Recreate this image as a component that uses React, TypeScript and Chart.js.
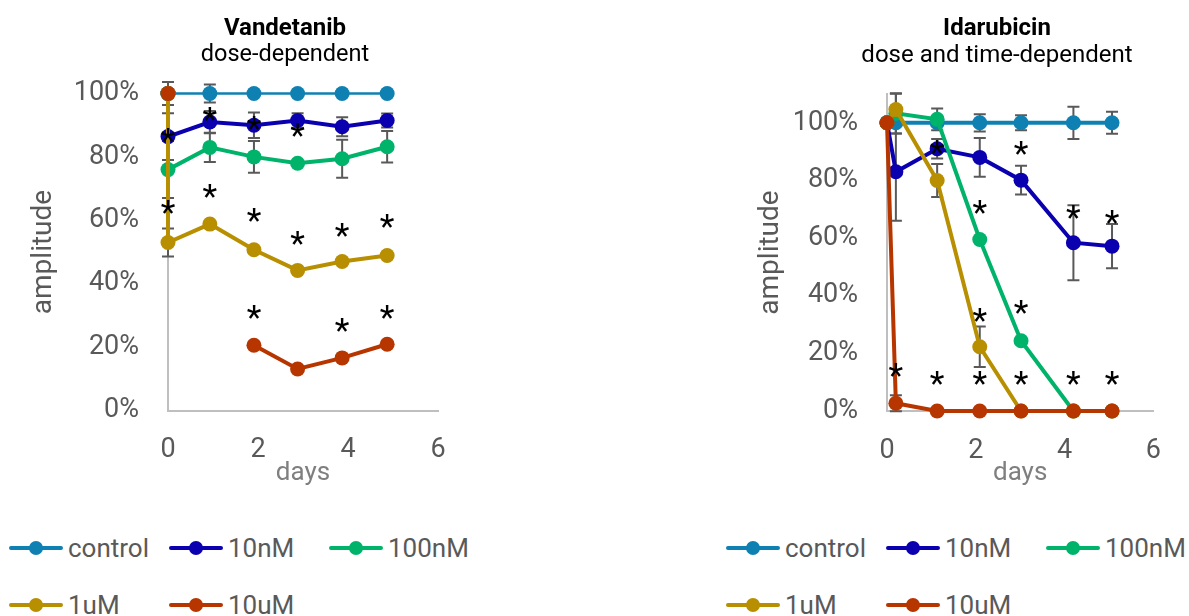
import React, { useEffect, useRef } from 'react';
import { Chart, registerables } from 'chart.js';

Chart.register(...registerables);

// ---------- shared ----------
const seriesNames = ['control', '10nM', '100nM', '1uM', '10uM'];
const seriesColors = ['#0F80B2', '#0B00AF', '#00B36A', '#B88F00', '#B73600'];
const dayTicks = [0, 2, 4, 6];
const amplitudeTicks = [0, 20, 40, 60, 80, 100];

// ---------- Vandetanib ----------
const vandetanibDays = [0, 0, 0.93, 1.91, 2.88, 3.87, 4.87];
const vandetanibControl = [100, 100, 100, 100, 100, 100, 100];
const vandetanib10nM = [100, 86.4, 91, 90, 91.5, 89.5, 91.5];
const vandetanib100nM = [100, 76, 83, 80, 78, 79.4, 83.2];
const vandetanib1uM = [100, 53, 58.8, 50.7, 44.2, 47, 48.9];
const vandetanib10uM = [100, null, null, 20.6, 13.1, 16.6, 20.9];

const vandetanibErrControl = [null, 3.6, 2.8, null, null, null, null];
const vandetanibErr10nM = [null, 7.4, 3.5, 4, 2.3, 3, 2.2];
const vandetanibErr100nM = [null, 9, 4.6, 5, null, 6, 5];
const vandetanibErr1uM = [null, 4.4, null, null, null, null, null];
const vandetanibErr10uM = [null, null, null, null, null, null, null];

const vandetanibStarDays = [0, 0, 0.93, 0.93, 1.91, 1.91, 1.91, 2.88, 2.88, 3.87, 3.87, 4.87, 4.87];
const vandetanibStarValues = [87.5, 64.7, 93.9, 69.8, 91.2, 62, 31.4, 89, 54.9, 57.5, 27.6, 60.2, 31.7];

// ---------- Idarubicin ----------
const idarubicinDays = [0, 0.2, 1.13, 2.09, 3.02, 4.2, 5.07];
const idarubicinControl = [100, 100, 100, 100, 100, 100, 100];
const idarubicin10nM = [100, 83, 91, 88, 80.1, 58.4, 57.2];
const idarubicin100nM = [100, 103.3, 101.2, 59.5, 24.4, 0, 0];
const idarubicin1uM = [100, 104.6, 80, 22.3, 0, 0, 0];
const idarubicin10uM = [100, 2.7, 0, 0, 0, 0, 0];

const idarubicinErrControl = [null, 3.7, null, 3, 2.6, 5.6, 3.8];
const idarubicinErr10nM = [null, 17, 3.4, 6.7, 5, 13, 7.7];
const idarubicinErr100nM = [null, 7, 3.8, null, null, null, null];
const idarubicinErr1uM = [null, 5.5, 5.7, 7, null, null, null];
const idarubicinErr10uM = [null, 2.8, null, null, null, null, null];

const idarubicinStarDays = [0.2, 1.13, 1.13, 2.09, 2.09, 2.09, 3.02, 3.02, 3.02, 4.2, 4.2, 5.07, 5.07];
const idarubicinStarValues = [14.8, 11.9, 92.3, 11.9, 34, 71.4, 11.9, 36.6, 91.7, 11.9, 69.7, 11.9, 68];

// ---------- plugins ----------
const errorBarPlugin = {
  id: 'errorBars',
  beforeDatasetsDraw(chart: any) {
    const { ctx, scales } = chart;
    const xs = scales.x;
    const ys = scales.y;
    ctx.save();
    ctx.strokeStyle = '#595959';
    ctx.lineWidth = 2;
    chart.data.datasets.forEach((ds: any) => {
      (ds.errors || []).forEach((e: number | null, j: number) => {
        const pt = ds.data[j];
        if (e == null || pt == null || pt.y == null) return;
        const px = xs.getPixelForValue(pt.x);
        const top = ys.getPixelForValue(pt.y + e);
        const bot = ys.getPixelForValue(pt.y - e);
        ctx.beginPath();
        ctx.moveTo(px, top);
        ctx.lineTo(px, bot);
        ctx.moveTo(px - 6, top);
        ctx.lineTo(px + 6, top);
        ctx.moveTo(px - 6, bot);
        ctx.lineTo(px + 6, bot);
        ctx.stroke();
      });
    });
    ctx.restore();
  },
};

function makeStarPlugin(days: number[], values: number[]) {
  return {
    id: 'stars',
    afterDatasetsDraw(chart: any) {
      const { ctx, scales } = chart;
      ctx.save();
      ctx.fillStyle = '#000000';
      ctx.font = '34px Roboto';
      ctx.textAlign = 'center';
      ctx.textBaseline = 'alphabetic';
      days.forEach((d, i) => {
        const px = scales.x.getPixelForValue(d);
        const py = scales.y.getPixelForValue(values[i]);
        ctx.fillText('*', px, py + 0.545 * 34);
      });
      ctx.restore();
    },
  };
}

type PanelProps = {
  left: number;
  width: number;
  height: number;
  days: number[];
  values: (number | null)[][];
  errors: (number | null)[][];
  starDays: number[];
  starValues: number[];
  yMax: number;
  lineWidths: number[];
  padTop: number;
  padRight: number;
  yAxisWidth: number;
  xAxisHeight: number;
  yTitlePad: number;
};

function Panel(p: PanelProps) {
  const ref = useRef<HTMLCanvasElement>(null);
  useEffect(() => {
    const datasets = seriesNames.map((name, i) => ({
      label: name,
      data: p.days.map((d, j) => ({ x: d, y: p.values[i][j] })),
      errors: p.errors[i],
      borderColor: seriesColors[i],
      backgroundColor: seriesColors[i],
      pointBackgroundColor: seriesColors[i],
      pointBorderColor: seriesColors[i],
      borderWidth: p.lineWidths[i],
      pointRadius: 7.5,
      pointHoverRadius: 7.5,
      pointBorderWidth: 0,
      order: seriesNames.length - 1 - i,
      clip: false,
      spanGaps: false,
      tension: 0,
    }));
    const chart = new Chart(ref.current as HTMLCanvasElement, {
      type: 'line',
      data: { datasets } as any,
      options: {
        animation: false,
        responsive: false,
        devicePixelRatio: 1,
        events: [],
        layout: { padding: { left: 0, top: p.padTop, right: p.padRight, bottom: 0 } },
        plugins: { legend: { display: false }, tooltip: { enabled: false }, title: { display: false } },
        scales: {
          x: {
            type: 'linear',
            min: 0,
            max: 6,
            afterBuildTicks: (s: any) => {
              s.ticks = dayTicks.map((v) => ({ value: v }));
            },
            afterFit: (s: any) => {
              s.height = p.xAxisHeight;
            },
            grid: { display: false, drawTicks: false },
            border: { display: true, color: '#BFBFBF', width: 2 },
            ticks: {
              color: '#595959',
              font: { family: 'Roboto', size: 27 },
              padding: 24,
              maxRotation: 0,
              autoSkip: false,
            },
            title: {
              display: true,
              text: 'days',
              color: '#7F7F7F',
              font: { family: 'Roboto', size: 26 },
              padding: { top: 0, bottom: 11 },
            },
          },
          y: {
            type: 'linear',
            min: 0,
            max: p.yMax,
            afterBuildTicks: (s: any) => {
              s.ticks = amplitudeTicks.map((v) => ({ value: v }));
            },
            afterFit: (s: any) => {
              s.width = p.yAxisWidth;
            },
            grid: { display: false, drawTicks: false },
            border: { display: true, color: '#BFBFBF', width: 2 },
            ticks: {
              color: '#595959',
              font: { family: 'Roboto', size: 27 },
              padding: 29,
              callback: (v: any) => v + '%',
            },
            title: {
              display: true,
              text: 'amplitude',
              color: '#595959',
              font: { family: 'Roboto', size: 28 },
              padding: { top: p.yTitlePad, bottom: 0 },
            },
          },
        },
      } as any,
      plugins: [errorBarPlugin, makeStarPlugin(p.starDays, p.starValues)],
    });
    return () => chart.destroy();
  }, []);
  return (
    <canvas
      ref={ref}
      width={p.width}
      height={p.height}
      style={{ position: 'absolute', left: p.left, top: 0, width: p.width, height: p.height }}
    />
  );
}

function Titles({ cx, title, subtitle, subSize }: { cx: number; title: string; subtitle: string; subSize: number }) {
  return (
    <>
      <div
        style={{
          position: 'absolute',
          left: cx,
          top: 35 - 0.842 * 24,
          transform: 'translateX(-50%)',
          font: 'bold 24px Roboto',
          lineHeight: '24px',
          whiteSpace: 'nowrap',
          color: '#000',
        }}
      >
        {title}
      </div>
      <div
        style={{
          position: 'absolute',
          left: cx,
          top: 62 - 0.842 * subSize,
          transform: 'translateX(-50%)',
          font: `${subSize}px Roboto`,
          lineHeight: `${subSize}px`,
          whiteSpace: 'nowrap',
          color: '#000',
        }}
      >
        {subtitle}
      </div>
    </>
  );
}

function Legend({ x0 }: { x0: number }) {
  return (
    <>
      {seriesNames.map((name, i) => {
        const x = x0 + (i % 3) * 160;
        const y = 548 + Math.floor(i / 3) * 57;
        const c = seriesColors[i];
        return (
          <React.Fragment key={name}>
            <div style={{ position: 'absolute', left: x, top: y - 2, width: 54, height: 4, background: c, borderRadius: 2 }} />
            <div style={{ position: 'absolute', left: x + 20, top: y - 7, width: 14, height: 14, borderRadius: '50%', background: c }} />
            <div
              style={{
                position: 'absolute',
                left: x + 59,
                top: y - 13,
                font: '26px Roboto',
                lineHeight: '26px',
                color: '#595959',
                whiteSpace: 'nowrap',
              }}
            >
              {name}
            </div>
          </React.Fragment>
        );
      })}
    </>
  );
}

export default function App() {
  return (
    <div
      style={{
        position: 'fixed',
        left: 0,
        top: 0,
        width: 1189,
        height: 616,
        overflow: 'hidden',
        background: '#ffffff',
        fontFamily: 'Roboto',
      }}
    >
      <Panel
        left={0}
        width={600}
        height={500}
        days={vandetanibDays}
        values={[vandetanibControl, vandetanib10nM, vandetanib100nM, vandetanib1uM, vandetanib10uM]}
        errors={[vandetanibErrControl, vandetanibErr10nM, vandetanibErr100nM, vandetanibErr1uM, vandetanibErr10uM]}
        starDays={vandetanibStarDays}
        starValues={vandetanibStarValues}
        yMax={100}
        lineWidths={[2.5, 4, 4, 4, 4]}
        padTop={93.5}
        padRight={162}
        yAxisWidth={168}
        xAxisHeight={89.5}
        yTitlePad={27}
      />
      <Panel
        left={720}
        width={469}
        height={500}
        days={idarubicinDays}
        values={[idarubicinControl, idarubicin10nM, idarubicin100nM, idarubicin1uM, idarubicin10uM]}
        errors={[idarubicinErrControl, idarubicinErr10nM, idarubicinErr100nM, idarubicinErr1uM, idarubicinErr10uM]}
        starDays={idarubicinStarDays}
        starValues={idarubicinStarValues}
        yMax={110}
        lineWidths={[4, 4, 4, 4, 4]}
        padTop={94}
        padRight={35.7}
        yAxisWidth={167}
        xAxisHeight={89}
        yTitlePad={34}
      />
      <Titles cx={285} title="Vandetanib" subtitle="dose-dependent" subSize={23.5} />
      <Titles cx={997} title="Idarubicin" subtitle="dose and time-dependent" subSize={24} />
      <Legend x0={9} />
      <Legend x0={726} />
    </div>
  );
}
